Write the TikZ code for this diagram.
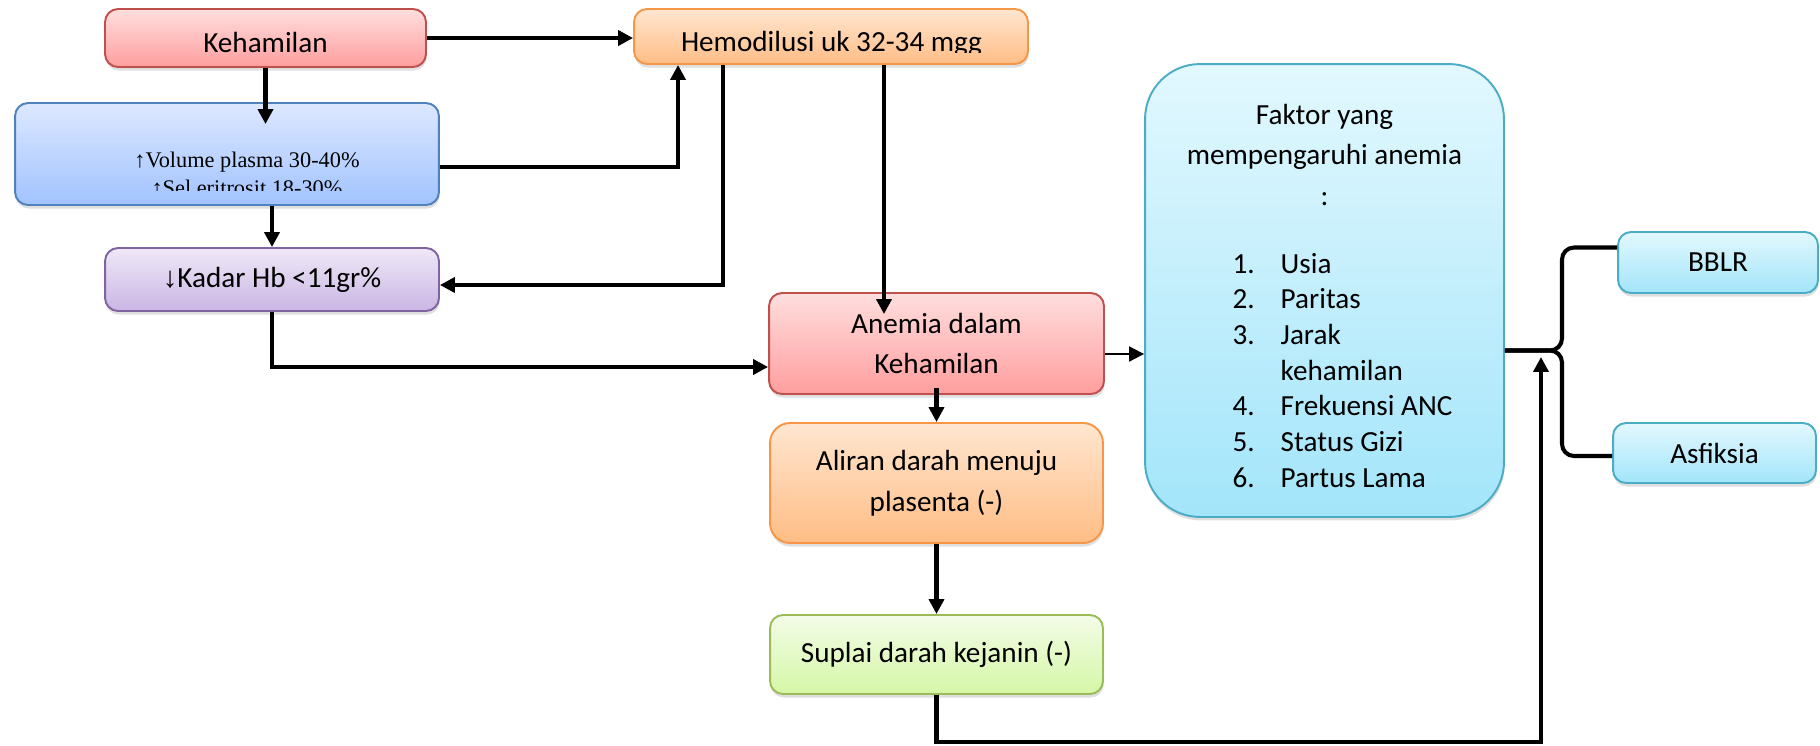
\documentclass[tikz,border=0pt]{standalone}
\usepackage{fontspec}
\setmainfont{Carlito}
\newfontfamily\serifplasma{Liberation Serif}
\newfontfamily\sanspanah{Liberation Sans}
\usepackage{tikz}
\usetikzlibrary{arrows.meta,shadows}

\definecolor{merahatas}{HTML}{FFDEDE}
\definecolor{merahbawah}{HTML}{FF9E9E}
\definecolor{merahgaris}{HTML}{C0504D}
\definecolor{oranyeatas}{HTML}{FFE6D0}
\definecolor{oranyebawah}{HTML}{FFBD85}
\definecolor{oranyegaris}{HTML}{F79646}
\definecolor{biruatas}{HTML}{DDE8FF}
\definecolor{birubawah}{HTML}{A1C3FF}
\definecolor{birugaris}{HTML}{4F81BD}
\definecolor{unguatas}{HTML}{EFE8F7}
\definecolor{ungubawah}{HTML}{CAB6E4}
\definecolor{ungugaris}{HTML}{8064A2}
\definecolor{hijauatas}{HTML}{F3FCE8}
\definecolor{hijaubawah}{HTML}{D5F7A6}
\definecolor{hijaugaris}{HTML}{9BBB59}
\definecolor{toscaatas}{HTML}{E2F8FE}
\definecolor{toscabawah}{HTML}{A3E5FA}
\definecolor{toscagaris}{HTML}{4BACC6}

\tikzset{
  kotak/.style={draw, line width=1.1pt, rounded corners=0.26cm, align=center, inner sep=0pt,
    font=\fontsize{16.6pt}{23.3pt}\selectfont,
    drop shadow={shadow xshift=0.4pt, shadow yshift=-2pt, opacity=0.25}},
  merah/.style={kotak, draw=merahgaris, top color=merahatas, bottom color=merahbawah},
  oranye/.style={kotak, draw=oranyegaris, top color=oranyeatas, bottom color=oranyebawah},
  biru/.style={kotak, draw=birugaris, top color=biruatas, bottom color=birubawah},
  ungu/.style={kotak, draw=ungugaris, top color=unguatas, bottom color=ungubawah},
  hijau/.style={kotak, draw=hijaugaris, top color=hijauatas, bottom color=hijaubawah},
  tosca/.style={kotak, draw=toscagaris, top color=toscaatas, bottom color=toscabawah},
  panah/.style={line width=2.8pt, -{Triangle[length=8.5pt,width=8.5pt]}},
  panahtipis/.style={line width=1.1pt, -{Triangle[length=8.5pt,width=8.5pt]}},
  kurung/.style={line width=2.3pt, rounded corners=0.24cm},
}

\begin{document}
\begin{tikzpicture}[x=0.02cm, y=-0.02cm]
    \useasboundingbox (0,0) rectangle (1820,745);

    % kolom kiri
    \node[merah, minimum width=6.42cm, minimum height=1.16cm, text height=16.5pt, text depth=0pt] (keham) at (265.5,38) {Kehamilan};
    \node[oranye, minimum width=7.88cm, minimum height=1.10cm] (hemo) at (831,36.5) {};
    \node[biru, minimum width=8.48cm, minimum height=2.04cm] (plasma) at (227,154) {};
    \node[ungu, minimum width=6.68cm, minimum height=1.26cm] (kadar) at (272,279.5) {{\sanspanah ↓}Kadar Hb <11gr\%};

    % teks yang terpotong
    \begin{scope}
        \clip (hemo.north west) rectangle ([yshift=0.24cm]hemo.south east);
        \node[anchor=base, font=\fontsize{16.6pt}{20pt}\selectfont] (hemoteks) at (831.5,51) {Hemodilusi uk 32-34 mgg};
    \end{scope}
    \begin{scope}
        \clip (plasma.north west) rectangle ([yshift=0.3cm]plasma.south east);
        \node[align=center, font=\serifplasma\fontsize{12.7pt}{16pt}\selectfont] (plasmateks) at (247,174)
            {↑Volume plasma 30-40\%\\↑Sel eritrosit 18-30\%};
    \end{scope}

    % kolom tengah
    \node[merah, minimum width=6.70cm, minimum height=2.02cm] (anemia) at (936.5,343.5) {Anemia dalam\\Kehamilan};
    \node[oranye, rounded corners=0.4cm, minimum width=6.66cm, minimum height=2.40cm] (aliran) at (936.5,483) {Aliran darah menuju\\plasenta (-)};
    \node[hijau, minimum width=6.66cm, minimum height=1.58cm] (suplai) at (936.5,654.5) {Suplai darah kejanin (-)};

    % kolom kanan
    \node[tosca, rounded corners=1.1cm, minimum width=7.18cm, minimum height=9.06cm,
        font=\fontsize{16.6pt}{23pt}\selectfont] (faktor) at (1324.5,290.5)
        {\rule{0pt}{23.5pt}Faktor yang\\mempengaruhi anemia\\:\\[15.8pt]{\fontsize{16.6pt}{20.3pt}\selectfont\hspace*{0.72cm}%
        \begin{tabular}[t]{@{}l@{\hspace{14.8pt}}l@{}}
            1. & Usia\\
            2. & Paritas\\
            3. & Jarak\\
               & kehamilan\\
            4. & Frekuensi ANC\\
            5. & Status Gizi\\
            6. & Partus Lama
        \end{tabular}}};
    \node[tosca, minimum width=4.00cm, minimum height=1.22cm] (bblr) at (1718,262.5) {BBLR};
    \node[tosca, minimum width=4.06cm, minimum height=1.20cm] (asfiksia) at (1714.5,453) {Asfiksia};

    % titik bantu
    \coordinate (masuk1) at ([yshift=-0.44cm]plasma.north);
    \coordinate (masuk2) at ([yshift=-0.44cm]anemia.north);
    \coordinate (h2) at ([xshift=1.06cm]hemo.south);
    \coordinate (bawah) at (1541,742);
    \coordinate (ujung) at (1541,357);
    \coordinate (fk) at ([yshift=-1.2cm]faktor.east);
    \coordinate (brx) at (1562,350);
    \coordinate (kb) at ([yshift=0.3cm]bblr.west);
    \coordinate (ka) at ([yshift=-0.06cm]asfiksia.west);

    % panah
    \draw[panah] (keham.east) -- (keham.east -| hemo.west);
    \draw[panah] (keham.south) -- (keham.south |- masuk1);
    \draw[panah] ([yshift=-0.26cm]plasma.east) -| ([xshift=-3.06cm]hemo.south);
    \draw[panah] (kadar.north |- plasma.south) -- (kadar.north);
    \draw[panah] ([xshift=-2.16cm]hemo.south) |- ([yshift=-0.11cm]kadar.east);
    \draw[panah] (h2) -- (h2 |- masuk2);
    \draw[panah] (kadar.south) |- ([yshift=-0.47cm]anemia.west);
    \draw[panahtipis] ([yshift=-0.21cm]anemia.east) -- ([yshift=-0.21cm]anemia.east -| faktor.west);
    \draw[panah] ([yshift=0.14cm]anemia.south) -- (aliran.north);
    \draw[panah] (aliran.south) -- (suplai.north);
    \draw[panah] (suplai.south) |- (bawah) -- (ujung);

    % kurung ke BBLR dan Asfiksia
    \draw[kurung] (fk) -| (brx |- kb) -- (kb);
    \draw[kurung] (fk) -| (brx |- ka) -- (ka);
\end{tikzpicture}
\end{document}
